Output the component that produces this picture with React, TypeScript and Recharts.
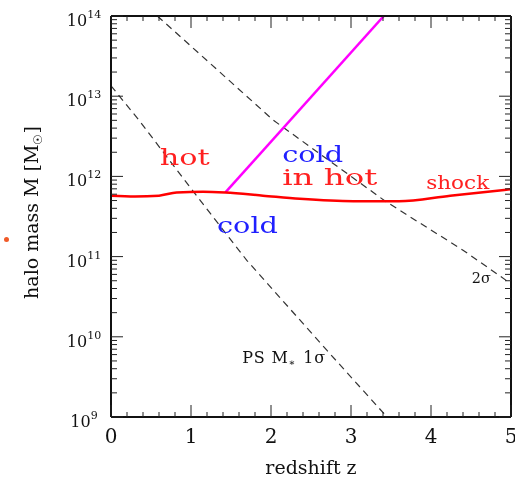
import { Label, Line, LineChart, ReferenceDot, XAxis, YAxis } from "recharts";

// redshift z / log10 halo mass
const sigma1Z = [0, 0.35, 1.03, 1.7, 2.7, 3.45];
const sigma1LogM = [13.13, 12.7, 11.81, 10.95, 9.83, 9.0];

const sigma2Z = [0.58, 2.03, 3.43, 4.4, 4.86, 5];
const sigma2LogM = [14.0, 12.7, 11.69, 11.08, 10.76, 10.66];

const shockZ = [0, 0.3, 0.6, 0.82, 1.15, 1.43, 1.9, 2.36, 3.03, 3.6, 4.24, 5];
const shockLogM = [11.76, 11.75, 11.76, 11.8, 11.81, 11.8, 11.76, 11.72, 11.69, 11.69, 11.76, 11.84];

const coldInHotZ = [1.43, 3.41];
const coldInHotLogM = [11.8, 14.0];

const zMajor = [0, 1, 2, 3, 4, 5];
const decades = [9, 10, 11, 12, 13, 14];

const zip = (zs: number[], ms: number[]) => zs.map((z, i) => ({ z, m: ms[i] }));

const zTicks: number[] = [];
for (let i = 0; i <= 25; i++) zTicks.push(Math.round(i * 20) / 100);
const mTicks: number[] = [];
decades.forEach((d, i) => {
  if (i === decades.length - 1) {
    mTicks.push(d);
    return;
  }
  for (let k = 1; k <= 9; k++) mTicks.push(d + Math.log10(k));
});

const FONT = "'DejaVu Serif', 'Liberation Serif', serif";
const isWhole = (v: number) => Math.abs(v - Math.round(v)) < 1e-6;

const BottomTick = (p: any) => {
  const v = p.payload.value;
  const major = isWhole(v);
  return (
    <g>
      <line x1={p.x} x2={p.x} y1={p.y} y2={p.y - (major ? 12 : 5)} stroke="#222" />
      {major && zMajor.includes(Math.round(v)) && (
        <text x={p.x} y={p.y + 26} textAnchor="middle" fontSize={20} fontFamily={FONT} fill="#111">
          {Math.round(v)}
        </text>
      )}
    </g>
  );
};

const TopTick = (p: any) => {
  const major = isWhole(p.payload.value);
  return <line x1={p.x} x2={p.x} y1={p.y} y2={p.y + (major ? 12 : 5)} stroke="#222" />;
};

const LeftTick = (p: any) => {
  const v = p.payload.value;
  const major = isWhole(v);
  return (
    <g>
      <line x1={p.x} x2={p.x + (major ? 12 : 6)} y1={p.y} y2={p.y} stroke="#222" />
      {major && (
        <text x={p.x - 27} y={p.y + 10} textAnchor="middle" fontSize={16} fontFamily={FONT} fill="#111">
          10
          <tspan dy={-8} fontSize={11}>
            {Math.round(v)}
          </tspan>
        </text>
      )}
    </g>
  );
};

const RightTick = (p: any) => {
  const major = isWhole(p.payload.value);
  return <line x1={p.x} x2={p.x - (major ? 12 : 6)} y1={p.y} y2={p.y} stroke="#222" />;
};

const note = (text: string, color: string, size: number, width: number) => (p: any) => (
  <text
    x={p.cx}
    y={p.cy}
    fill={color}
    fontSize={size}
    fontFamily={FONT}
    textLength={width}
    lengthAdjust="spacingAndGlyphs"
  >
    {text}
  </text>
);

export default function App() {
  return (
    <div style={{ position: "fixed", left: 0, top: 0 }}>
      <div
        style={{
          position: "absolute",
          left: 4,
          top: 237,
          width: 5,
          height: 5,
          borderRadius: "50%",
          background: "#f05a28",
        }}
      />
      <LineChart width={515} height={479} margin={{ top: 15, right: 3, bottom: 0, left: 8 }}>
        <XAxis
          xAxisId={0}
          type="number"
          dataKey="z"
          domain={[0, 5]}
          ticks={zTicks}
          interval={0}
          tickSize={0}
          tickMargin={0}
          tick={BottomTick}
          height={62}
          axisLine={{ stroke: "#111", strokeWidth: 2 }}
          allowDataOverflow
        >
          <Label
            content={(lp: any) => (
              <text
                x={lp.viewBox.x + lp.viewBox.width / 2}
                y={lp.viewBox.y + 57}
                textAnchor="middle"
                fontSize={19}
                fontFamily={FONT}
                fill="#111"
              >
                redshift z
              </text>
            )}
          />
        </XAxis>
        <XAxis
          xAxisId="top"
          orientation="top"
          type="number"
          dataKey="z"
          domain={[0, 5]}
          ticks={zTicks}
          interval={0}
          tickSize={0}
          tickMargin={0}
          tick={TopTick}
          height={1}
          axisLine={{ stroke: "#111", strokeWidth: 2 }}
          allowDataOverflow
        />
        <YAxis
          yAxisId={0}
          type="number"
          dataKey="m"
          domain={[9, 14]}
          ticks={mTicks}
          interval={0}
          tickSize={0}
          tickMargin={0}
          tick={LeftTick}
          width={103}
          axisLine={{ stroke: "#111", strokeWidth: 2 }}
          allowDataOverflow
        >
          <Label
            content={(lp: any) => {
              const cx = 38;
              const cy = lp.viewBox.y + lp.viewBox.height / 2 - 4;
              return (
                <text
                  x={cx}
                  y={cy}
                  transform={`rotate(-90, ${cx}, ${cy})`}
                  textAnchor="middle"
                  fontSize={19}
                  fontFamily={FONT}
                  fill="#111"
                >
                  halo mass M [M
                  <tspan dy={4} fontSize={12}>
                    ☉
                  </tspan>
                  <tspan dy={-4}>]</tspan>
                </text>
              );
            }}
          />
        </YAxis>
        <YAxis
          yAxisId="right"
          orientation="right"
          type="number"
          dataKey="m"
          domain={[9, 14]}
          ticks={mTicks}
          interval={0}
          tickSize={0}
          tickMargin={0}
          tick={RightTick}
          width={1}
          axisLine={{ stroke: "#111", strokeWidth: 2 }}
          allowDataOverflow
        />

        <Line
          data={zip(sigma1Z, sigma1LogM)}
          dataKey="m"
          type="linear"
          stroke="#333"
          strokeWidth={1.2}
          strokeDasharray="7 5"
          dot={false}
          isAnimationActive={false}
        />
        <Line
          data={zip(sigma2Z, sigma2LogM)}
          dataKey="m"
          type="linear"
          stroke="#333"
          strokeWidth={1.2}
          strokeDasharray="7 5"
          dot={false}
          isAnimationActive={false}
        />
        <Line
          data={zip(coldInHotZ, coldInHotLogM)}
          dataKey="m"
          type="linear"
          stroke="#ff00ff"
          strokeWidth={2.5}
          dot={false}
          isAnimationActive={false}
        />
        <Line
          data={zip(shockZ, shockLogM)}
          dataKey="m"
          type="monotone"
          stroke="#ff0000"
          strokeWidth={2.5}
          dot={false}
          isAnimationActive={false}
        />

        <ReferenceDot x={0.61} y={12.14} r={1} shape={note("hot", "#ff2020", 23, 50)} />
        <ReferenceDot x={2.14} y={12.175} r={1} shape={note("cold", "#2020ff", 22, 61)} />
        <ReferenceDot x={2.14} y={11.89} r={1} shape={note("in hot", "#ff2020", 22, 95)} />
        <ReferenceDot x={3.94} y={11.84} r={1} shape={note("shock", "#ff2020", 18, 63)} />
        <ReferenceDot x={1.325} y={11.29} r={1} shape={note("cold", "#2020ff", 23, 61)} />
        <ReferenceDot x={4.51} y={10.675} r={1} shape={note("2σ", "#111", 14, 19)} />
        <ReferenceDot
          x={1.64}
          y={9.675}
          r={1}
          shape={(p: any) => (
            <text x={p.cx} y={p.cy} fill="#111" fontSize={16} fontFamily={FONT} letterSpacing={0.8}>
              PS M
              <tspan dy={3} fontSize={10}>
                ∗
              </tspan>
              <tspan dy={-3} dx={7}>
                1σ
              </tspan>
            </text>
          )}
        />
      </LineChart>
    </div>
  );
}
